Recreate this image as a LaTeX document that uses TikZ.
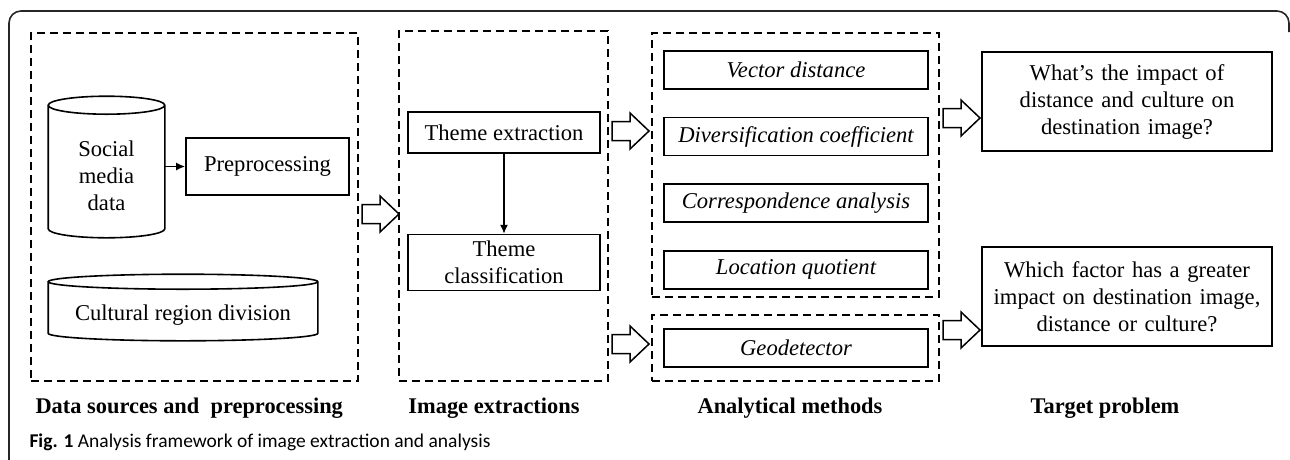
\documentclass[tikz,border=0pt]{standalone}
\usepackage{fontspec}
\setmainfont{Liberation Serif}
\newfontfamily\capfont{Carlito}
\usetikzlibrary{positioning,calc,arrows.meta}

\tikzset{
  box/.style={draw, line width=1.6pt, inner sep=0pt, align=center, font=\fontsize{22.6}{27}\selectfont},
  cylbox/.style={box, draw=none},
  method/.style={box, minimum width=264pt, minimum height=38pt, font=\fontsize{22.6}{27}\selectfont\itshape},
  target/.style={box, minimum width=290pt, minimum height=99pt, text width=288pt},
  group/.style={draw, line width=1.5pt, dash pattern=on 8pt off 5pt, inner sep=0pt},
  heading/.style={font=\fontsize{22.4}{27}\selectfont\bfseries},
  blockarrow/.pic={\draw[line width=1.5pt, fill=white] (0,-9.5) -- (18,-9.5) -- (18,-18) -- (37,0) -- (18,18) -- (18,9.5) -- (0,9.5) -- cycle;}
}
\newcommand{\cylinderaround}[2]{%
  \draw[line width=1.6pt] let \p1=(#1.north west), \p2=(#1.south east), \n1={(\x2-\x1)/2} in
    (\x1,\y1+#2) -- (\x1,\y2+#2) arc[start angle=180, end angle=360, x radius=\n1, y radius=#2]
    -- (\x2,\y1+#2) arc[start angle=0, end angle=360, x radius=\n1, y radius=#2];}

\begin{document}
\begin{tikzpicture}[x=1pt,y=-1pt]
\useasboundingbox (0,0) rectangle (1290,459);
\draw[line width=1.6pt, black!85, rounded corners=12pt] (9,470) -- (9,11) -- (1289,11) -- (1289,32);

% dashed groups
\node[group, minimum width=327pt, minimum height=348pt] (srcgrp) at (194.5,207) {};
\node[group, minimum width=209pt, minimum height=350pt] (imggrp) at (503.5,206) {};
\node[group, minimum width=287pt, minimum height=264pt] (methgrp) at (795.5,165) {};
\node[group, minimum width=287pt, minimum height=66pt] (geogrp) at (795.5,348) {};

% data sources
\node[cylbox, minimum width=115pt, minimum height=122pt] (social) at (106.5,176) {Social\\media\\data};
\node[cylbox, minimum width=268pt, minimum height=50pt] (culture) at (183,315) {Cultural region division};
\cylinderaround{social}{9pt}
\cylinderaround{culture}{7.5pt}
\node[box, minimum width=163pt, minimum height=57pt] (prep) at (267.5,166.5) {Preprocessing};
\draw[-{Latex[length=9pt,width=8pt]}, line width=1.6pt] (prep.west -| social.east) -- (prep.west);

% image extraction
\node[box, minimum width=192pt, minimum height=41pt] (extract) at (504,132.5) {Theme extraction};
\node[box, minimum width=192pt, minimum height=56pt, below=80pt of extract] (classify) {Theme\\classification};
\draw[-{Latex[length=9pt,width=8pt]}, line width=1.6pt] (extract) -- (classify);

% methods
\node[method] (vector) at (796,70) {Vector distance};
\node[method, below=27pt of vector] (diverse) {Diversification coefficient};
\node[method, below=27pt of diverse] (corresp) {Correspondence analysis};
\node[method, below=27pt of corresp] (location) {Location quotient};
\node[method] (geo) at (796,348) {Geodetector};

% problems
\node[target] (impact) at (1127,101.5) {What’s the impact of\\distance and culture on\\destination image?};
\node[target] (factor) at (1127,296.5) {Which factor has a greater\\impact on destination image,\\distance or culture?};

\path (362,214) pic {blockarrow};
\path (612,131) pic {blockarrow};
\path (612,344) pic {blockarrow};
\path (943,118) pic {blockarrow};
\path (943,330) pic {blockarrow};

\node[heading, anchor=base west] (srchead) at (32,413) {Data sources and\ \ preprocessing};
\node[heading, anchor=base] (imghead) at (494,413) {Image extractions};
\node[heading, anchor=base] (methhead) at (790,413) {Analytical methods};
\node[heading, anchor=base] (probhead) at (1105,413) {Target problem};

\node[anchor=base west, font=\capfont\fontsize{19.5}{22}\selectfont] (caption) at (26,447) {\textbf{Fig. 1} Analysis framework of image extraction and analysis};
\end{tikzpicture}
\end{document}
